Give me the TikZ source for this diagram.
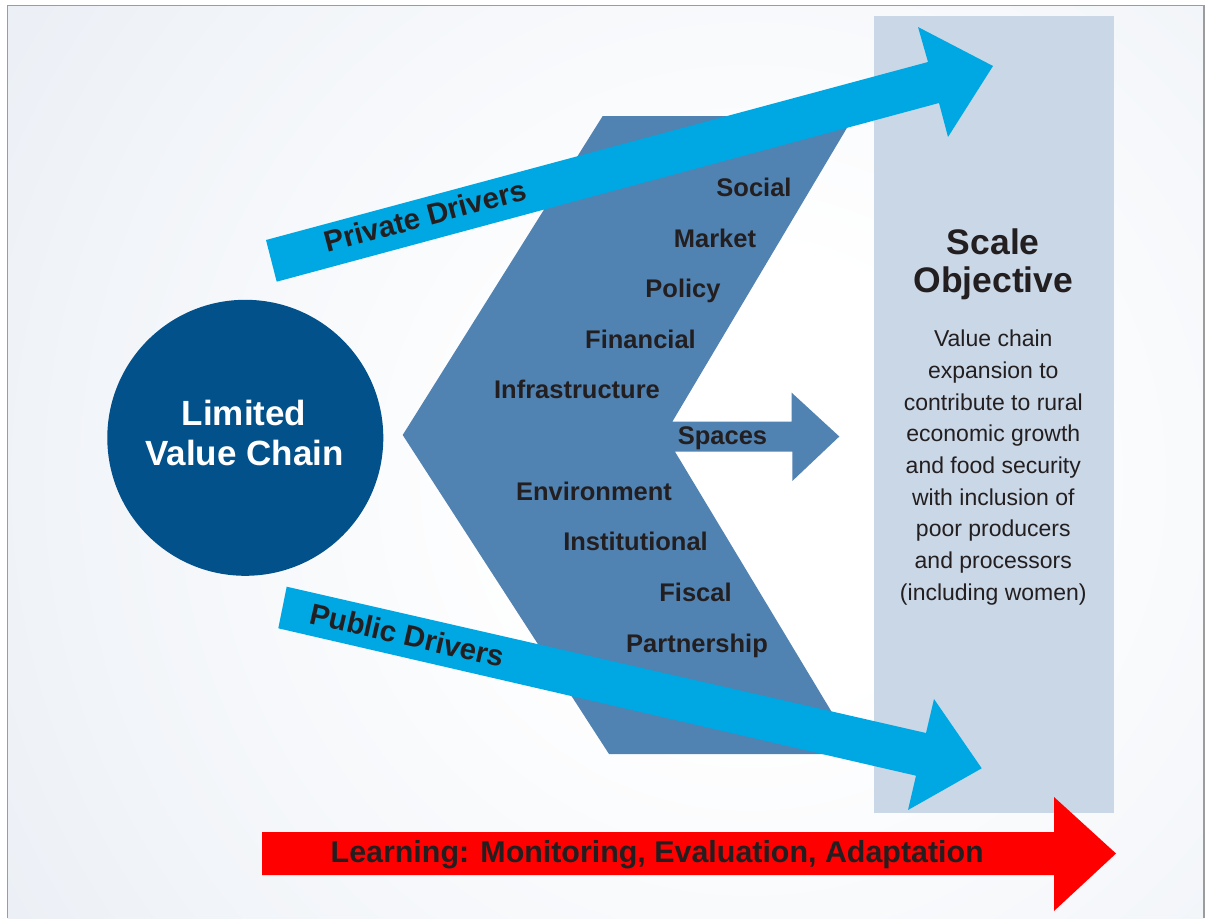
\documentclass[tikz,border=0pt]{standalone}
\usepackage{fontspec}
\setmainfont{Liberation Sans}
\definecolor{bgblue}{HTML}{DFE6F0}
\definecolor{framegray}{HTML}{9C9C9C}
\definecolor{panelblue}{HTML}{CAD7E7}
\definecolor{chevblue}{HTML}{5082B2}
\definecolor{driverblue}{HTML}{00A8E3}
\definecolor{circleblue}{HTML}{03518A}
\definecolor{learnred}{HTML}{FF0000}
\definecolor{ink}{HTML}{231F20}
\pgfdeclareradialshading{bgshade}{\pgfpoint{0bp}{0bp}}{color(0bp)=(white); color(4bp)=(white); color(23bp)=(bgblue); color(50bp)=(bgblue)}
\begin{document}
\begin{tikzpicture}[x=1pt,y=-1pt,
  lbl/.style={anchor=base, inner sep=0pt, text=ink, font=\bfseries\fontsize{25.5}{30}\selectfont},
  drvtext/.style={anchor=base, inner sep=0pt, text=ink, font=\bfseries\fontsize{29.5}{34}\selectfont},
  titletext/.style={anchor=base, inner sep=0pt, text=white, font=\bfseries\fontsize{35}{40}\selectfont},
  objtitle/.style={anchor=base, inner sep=0pt, text=ink, font=\bfseries\fontsize{35.5}{40}\selectfont},
  objbody/.style={anchor=base, inner sep=0pt, text=ink, font=\fontsize{23}{30}\selectfont},
  learntext/.style={anchor=base, inner sep=0pt, text=ink, font=\bfseries\fontsize{30.4}{36}\selectfont}]

\useasboundingbox (0,0) rectangle (1206,918);
\fill[white] (0,0) rectangle (1206,918);

% soft background inside the frame
\begin{scope}
  \clip (7.5,5.5) rectangle (1204,918);
  \shade[shading=bgshade] (750,480) circle (1400);
\end{scope}
\draw[framegray, line width=1.5pt] (7.5,918) -- (7.5,5.5) -- (1204,5.5) -- (1204,918);

% objective panel
\node[fill=panelblue, inner sep=0pt, minimum width=240pt, minimum height=797pt] (panel) at (994,414.5) {};

% chevron of enabling spaces with its pointer
\fill[chevblue] (602.7,116) -- (854,116) -- (672.3,421.7) -- (791.7,421.7) -- (791.7,392.7)
  -- (839.3,436.5) -- (792.3,481) -- (792.3,451.7) -- (675,451.7) -- (857,754)
  -- (609,754) -- (402.7,435) -- cycle;

% private drivers arrow
\fill[driverblue] (266,240) -- (928,62) -- (918,27) -- (993,66) -- (948,137) -- (939,103)
  -- (276.7,281.7) -- cycle;

% public drivers arrow
\fill[driverblue] (286.7,586.7) -- (926,733) -- (934,699) -- (981.7,768.3) -- (908,810)
  -- (916,775.7) -- (278.3,628.3) -- cycle;

% learning arrow
\fill[learnred] (262,832) -- (1054,832) -- (1054,797) -- (1116,853.5) -- (1054,911)
  -- (1054,875) -- (262,875) -- cycle;

% limited value chain
\node[circle, fill=circleblue, inner sep=0pt, minimum size=276pt] (lvc) at (245.3,437.8) {};
\node[titletext] (lvc1) at (244,425) {Limited};
\node[titletext] (lvc2) at (244.5,465) {Value Chain};

% driver labels
\node[drvtext, rotate=15] (priv) at (428,226) {Private Drivers};
\node[drvtext, rotate=-12.9] (publ) at (405,645.5) {Public Drivers};

% spaces
\node[lbl] (s1) at (754,196.5) {Social};
\node[lbl] (s2) at (715,247) {Market};
\node[lbl] (s3) at (683,297.5) {Policy};
\node[lbl] (s4) at (640.5,348) {Financial};
\node[lbl] (s5) at (577,398.5) {Infrastructure};
\node[lbl] (s6) at (722.5,444.5) {Spaces};
\node[lbl] (s7) at (594,500) {Environment};
\node[lbl] (s8) at (635.5,550.5) {Institutional};
\node[lbl] (s9) at (695.5,601.5) {Fiscal};
\node[lbl] (s10) at (697,652) {Partnership};

% objective text
\node[objtitle] (obj1) at (993.3,254) {Scale};
\node[objtitle] (obj2) at (993.3,292) {Objective};
\foreach \t [count=\i from 0] in {Value chain, expansion to, contribute to rural,
    economic growth, and food security, with inclusion of, poor producers,
    and processors, (including women)}
  \node[objbody] (body\i) at (993.3,346.7+31.7*\i) {\t};

% learning label
\node[learntext] (learn) at (657.2,862.7) {Learning: Monitoring, Evaluation, Adaptation};
\end{tikzpicture}
\end{document}
